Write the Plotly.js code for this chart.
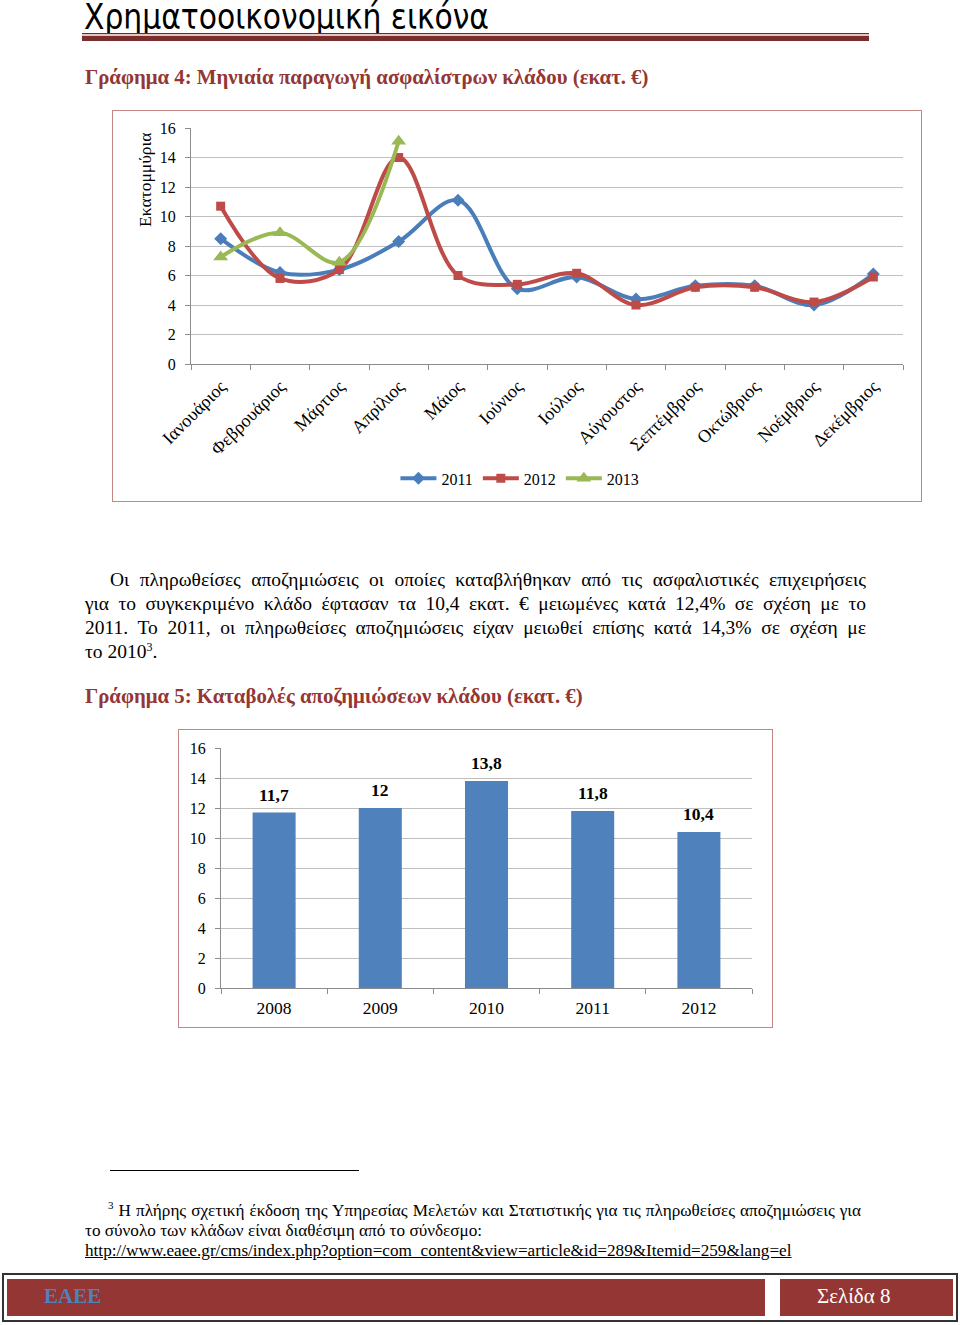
<!DOCTYPE html>
<html>
<head>
<meta charset="utf-8">
<script src="https://cdn.plot.ly/plotly-3.0.1.min.js"></script>
<style>
  html, body { margin:0; padding:0; background:#fff; }
  body { width:960px; height:1325px; position:relative; overflow:hidden; font-family:"Liberation Serif", "Times New Roman", serif; color:#000; }
  .abs { position:absolute; }
  #pageTitle { left:84px; top:2px; font-family:"Liberation Sans Narrow","Arial Narrow","DejaVu Sans Condensed",sans-serif; font-size:35px; line-height:30px; white-space:nowrap; transform:scaleX(0.946); transform-origin:0 0; }
  .rule1 { left:82px; top:33px; width:787px; height:1px; background:#6d2b2b; }
  .rule2 { left:82px; top:34px; width:787px; height:2px; background:#e6c2c2; }
  .rule3 { left:82px; top:36px; width:787px; height:5px; background:#7a2f2f; }
  .caption { font-weight:bold; color:#943634; white-space:nowrap; }
  .chartbox { border:1px solid #c48585; box-sizing:border-box; background:#fff; }
  .pline { left:85px; width:781px; font-size:19.5px; line-height:24px; text-align:justify; text-align-last:justify; white-space:nowrap; }
  .fline { left:85px; font-size:17.2px; line-height:20px; white-space:nowrap; }
  #footer { left:2px; top:1273px; width:956px; height:49px; border:2px solid #333; box-sizing:border-box; background:#fff; }
  #footL { left:7px; top:1279px; width:758px; height:37px; background:#943634; }
  #footR { left:780px; top:1279px; width:173px; height:37px; background:#943634; }
</style>
</head>
<body>
<div id="pageTitle" class="abs">Χρηματοοικονομική εικόνα</div>
<div class="abs rule1"></div>
<div class="abs rule2"></div>
<div class="abs rule3"></div>

<div class="abs caption" style="left:85px; top:65px; font-size:20.8px;">Γράφημα 4: Μηνιαία παραγωγή ασφαλίστρων κλάδου (εκατ. €)</div>

<div id="chart1" class="abs chartbox" style="left:112px; top:110px; width:810px; height:392px;"></div>

<div class="abs pline" style="top:568px; left:110px; width:756px;">Οι πληρωθείσες αποζημιώσεις οι οποίες καταβλήθηκαν από τις ασφαλιστικές επιχειρήσεις</div>
<div class="abs pline" style="top:592px;">για το συγκεκριμένο κλάδο έφτασαν τα 10,4 εκατ. € μειωμένες κατά 12,4% σε σχέση με το</div>
<div class="abs pline" style="top:616px;">2011. Το 2011, οι πληρωθείσες αποζημιώσεις είχαν μειωθεί επίσης κατά 14,3% σε σχέση με</div>
<div class="abs pline" style="top:640px; text-align-last:left; width:auto;">το 2010<sup style="font-size:12px; line-height:0;">3</sup>.</div>

<div class="abs caption" style="left:85px; top:684px; font-size:20.8px;">Γράφημα 5: Καταβολές αποζημιώσεων κλάδου (εκατ. €)</div>

<div id="chart2" class="abs chartbox" style="left:178px; top:729px; width:595px; height:299px;"></div>

<div class="abs" style="left:110px; top:1170px; width:249px; height:1px; background:#000;"></div>
<div class="abs fline" style="top:1201px; left:108px; width:753px; text-align:justify; text-align-last:justify;"><sup style="font-size:11px; line-height:0;">3</sup> Η πλήρης σχετική έκδοση της Υπηρεσίας Μελετών και Στατιστικής για τις πληρωθείσες αποζημιώσεις για</div>
<div class="abs fline" style="top:1221px;">το σύνολο των κλάδων είναι διαθέσιμη από το σύνδεσμο:</div>
<div class="abs fline" style="top:1241px; text-decoration:underline;">http://www.eaee.gr/cms/index.php?option=com_content&amp;view=article&amp;id=289&amp;Itemid=259&amp;lang=el</div>

<div id="footer" class="abs"></div>
<div id="footL" class="abs"></div>
<div id="footR" class="abs"></div>
<div class="abs" style="left:44px; top:1284px; font-size:21px; font-weight:bold; color:#4f81bd;">ΕΑΕΕ</div>
<div class="abs" style="left:817px; top:1284px; font-size:21px; color:#fff;">Σελίδα 8</div>

<script>
// ---- Chart 1 data: monthly premium production (million €)
const months = ["Ιανουάριος","Φεβρουάριος","Μάρτιος","Απρίλιος","Μάιος","Ιούνιος","Ιούλιος","Αύγουστος","Σεπτέμβριος","Οκτώβριος","Νοέμβριος","Δεκέμβριος"];
const values2011 = [8.5, 6.2, 6.4, 8.3, 11.1, 5.1, 5.9, 4.4, 5.3, 5.3, 4.0, 6.1];
const values2012 = [10.7, 5.8, 6.4, 14.0, 6.0, 5.4, 6.15, 4.0, 5.2, 5.2, 4.2, 5.9];
const values2013 = [7.25, 8.9, 6.9, 15.1];
const seriesNames = ["2011", "2012", "2013"];
const yAxisTitle1 = "Εκατομμύρια";

// ---- Chart 2 data: claims paid (million €)
const years = ["2008", "2009", "2010", "2011", "2012"];
const claims = [11.7, 12, 13.8, 11.8, 10.4];

const serif = "Liberation Serif, Times New Roman, serif";
const gridCol = "#bfbfbf";
const axCol = "#8c8c8c";

const traces1 = [
  {x: months, y: values2011, name: seriesNames[0], type: "scatter", mode: "lines+markers",
   line: {color: "#4a7ebb", width: 4, shape: "spline", smoothing: 1},
   marker: {symbol: "diamond", size: 10, color: "#4a7ebb"}},
  {x: months, y: values2012, name: seriesNames[1], type: "scatter", mode: "lines+markers",
   line: {color: "#be4b48", width: 4, shape: "spline", smoothing: 1},
   marker: {symbol: "square", size: 9, color: "#be4b48"}},
  {x: months.slice(0, values2013.length), y: values2013, name: seriesNames[2], type: "scatter", mode: "lines+markers",
   line: {color: "#98b954", width: 4, shape: "spline", smoothing: 1},
   marker: {symbol: "triangle-up", size: 13, color: "#98b954"}}
];

const layout1 = {
  width: 808, height: 390,
  margin: {l: 78, r: 18, t: 17, b: 137, autoexpand: false},
  paper_bgcolor: "rgba(0,0,0,0)", plot_bgcolor: "#fff",
  font: {family: serif, size: 16, color: "#000"},
  showlegend: true,
  legend: {orientation: "h", x: 0.462, xanchor: "center", y: -0.485, yanchor: "middle",
           font: {family: serif, size: 16, color: "#000"}, itemwidth: 36, traceorder: "normal"},
  xaxis: {type: "category", tickangle: -45, showgrid: false, showline: true, linecolor: axCol,
          ticks: "outside", tickson: "boundaries", ticklen: 5, tickcolor: axCol, automargin: false,
          ticklabelstandoff: 4, range: [-0.5, months.length - 0.5],
          tickfont: {family: serif, size: 18, color: "#000"}, fixedrange: true},
  yaxis: {range: [0, 16], dtick: 2, showgrid: true, gridcolor: gridCol, gridwidth: 1, automargin: false,
          showline: true, linecolor: axCol, ticks: "outside", ticklen: 5, tickcolor: axCol,
          ticklabelstandoff: 6,
          zeroline: false, tickfont: {family: serif, size: 16, color: "#000"}},
  annotations: [{xref: "paper", yref: "paper", x: -0.0646, y: 0.78, xanchor: "center", yanchor: "middle",
                 text: yAxisTitle1, textangle: -90, showarrow: false,
                 font: {family: serif, size: 17.5, color: "#000"}}]
};

Plotly.newPlot("chart1", traces1, layout1, {displayModeBar: false, staticPlot: true});

const labels2 = claims.map(v => String(v).replace(".", ","));
const traces2 = [{
  x: years, y: claims, type: "bar", marker: {color: "#4f81bd"}, hoverinfo: "none"
}];
// annotations referenced by category index so numeric-looking labels are not read as positions
const annots2 = years.map((yr, i) => ({
  x: i, y: claims[i], text: "<b>" + labels2[i] + "</b>", showarrow: false,
  yanchor: "bottom", yshift: 6, font: {family: serif, size: 17.5, color: "#000"}
}));
const layout2 = {
  width: 593, height: 297,
  margin: {l: 42, r: 20, t: 18, b: 39, autoexpand: false},
  paper_bgcolor: "rgba(0,0,0,0)", plot_bgcolor: "#fff",
  font: {family: serif, size: 16, color: "#000"},
  showlegend: false, bargap: 0.595,
  annotations: annots2,
  xaxis: {type: "category", showgrid: false, showline: true, linecolor: axCol, automargin: false,
          range: [-0.5, years.length - 0.5], ticklabelstandoff: 4,
          ticks: "outside", tickson: "boundaries", ticklen: 5, tickcolor: axCol,
          tickfont: {family: serif, size: 17.5, color: "#000"}, fixedrange: true},
  yaxis: {range: [0, 16], dtick: 2, showgrid: true, gridcolor: gridCol, gridwidth: 1, automargin: false,
          showline: true, linecolor: axCol, ticks: "outside", ticklen: 5, tickcolor: axCol,
          ticklabelstandoff: 6,
          zeroline: false, tickfont: {family: serif, size: 16, color: "#000"}}
};
Plotly.newPlot("chart2", traces2, layout2, {displayModeBar: false, staticPlot: true});
</script>
</body>
</html>
